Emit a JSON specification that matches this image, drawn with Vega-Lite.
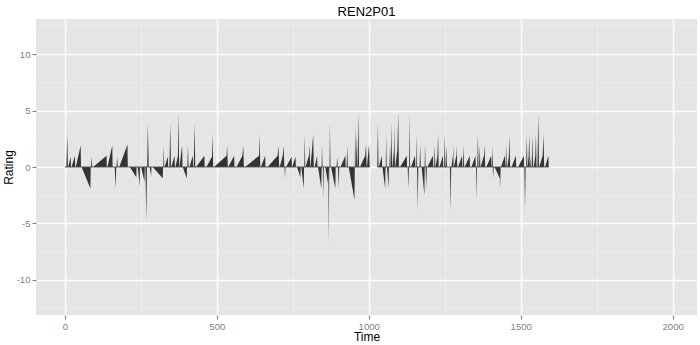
{
  "$schema": "https://vega.github.io/schema/vega-lite/v6.json",
  "width": 661,
  "height": 296,
  "autosize": {"type": "none"},
  "padding": {"left": 36, "top": 19, "right": 3, "bottom": 30},
  "background": "white",
  "title": {"text": "REN2P01", "fontSize": 13, "font": "Liberation Sans", "fontWeight": "normal", "color": "black", "anchor": "middle", "offset": 0},
  "config": {
    "view": {"fill": "#e5e5e5", "stroke": null},
    "axis": {"domain": false, "labelFont": "Liberation Sans", "titleFont": "Liberation Sans", "labelColor": "#7f7f7f", "labelFontSize": 9.6, "titleFontSize": 12, "titleFontWeight": "normal", "titleColor": "black", "tickColor": "#7f7f7f", "tickSize": 4, "labelPadding": 2}
  },
  "layer": [
    {
      "data": {"values": [{"Rating": -12.5}, {"Rating": -7.5}, {"Rating": -2.5}, {"Rating": 2.5}, {"Rating": 7.5}, {"Rating": 12.5}]},
      "mark": {"type": "rule", "color": "#f2f2f2", "strokeWidth": 0.6},
      "encoding": {
        "y": {"field": "Rating", "type": "quantitative"}
      }
    },
    {
      "data": {"values": [
{"Time":0,"Rating":0},{"Time":5,"Rating":0},{"Time":8,"Rating":2.9},{"Time":10,"Rating":0},
{"Time":11,"Rating":0},{"Time":19,"Rating":0.9},{"Time":20,"Rating":0},
{"Time":22,"Rating":0},{"Time":33,"Rating":1.0},{"Time":34,"Rating":0},
{"Time":36,"Rating":0},{"Time":52,"Rating":1.9},{"Time":53,"Rating":0},
{"Time":55,"Rating":0},{"Time":84,"Rating":-1.9},{"Time":85,"Rating":0},
{"Time":86,"Rating":0},{"Time":88,"Rating":0.9},{"Time":90,"Rating":0},
{"Time":93,"Rating":0},{"Time":137,"Rating":1.0},{"Time":138,"Rating":0},
{"Time":140,"Rating":0},{"Time":156,"Rating":1.9},{"Time":157,"Rating":0},
{"Time":164,"Rating":0},{"Time":167,"Rating":-1.9},{"Time":169,"Rating":0},
{"Time":170,"Rating":0},{"Time":172,"Rating":0.9},{"Time":174,"Rating":0},
{"Time":179,"Rating":0},{"Time":206,"Rating":2.0},{"Time":207,"Rating":0},
{"Time":214,"Rating":0},{"Time":235,"Rating":-0.9},{"Time":236,"Rating":0},
{"Time":240,"Rating":0},{"Time":246,"Rating":-1.7},{"Time":247,"Rating":0},
{"Time":251,"Rating":0},{"Time":262,"Rating":-1.3},{"Time":263,"Rating":0},
{"Time":265,"Rating":0},{"Time":268,"Rating":-4.8},{"Time":270,"Rating":0},
{"Time":271,"Rating":0},{"Time":273,"Rating":3.9},{"Time":276,"Rating":0},
{"Time":279,"Rating":0},{"Time":284,"Rating":-0.8},{"Time":285,"Rating":0},
{"Time":289,"Rating":0},{"Time":322,"Rating":-1.0},{"Time":323,"Rating":0},
{"Time":324,"Rating":0},{"Time":325,"Rating":1.9},{"Time":327,"Rating":0},
{"Time":328,"Rating":0},{"Time":339,"Rating":0.9},{"Time":340,"Rating":0},
{"Time":344,"Rating":0},{"Time":347,"Rating":3.9},{"Time":349,"Rating":0},
{"Time":350,"Rating":0},{"Time":361,"Rating":1.0},{"Time":362,"Rating":0},
{"Time":364,"Rating":0},{"Time":372,"Rating":1.0},{"Time":374,"Rating":4.9},{"Time":376,"Rating":0},
{"Time":377,"Rating":0},{"Time":386,"Rating":1.9},{"Time":387,"Rating":0},
{"Time":388,"Rating":0},{"Time":401,"Rating":-1.0},{"Time":402,"Rating":0},
{"Time":403,"Rating":0},{"Time":405,"Rating":1.9},{"Time":407,"Rating":0},
{"Time":410,"Rating":0},{"Time":421,"Rating":1.0},{"Time":422,"Rating":0},
{"Time":424,"Rating":0},{"Time":427,"Rating":3.9},{"Time":429,"Rating":0},
{"Time":432,"Rating":0},{"Time":459,"Rating":1.0},{"Time":460,"Rating":0},
{"Time":466,"Rating":0},{"Time":484,"Rating":0.9},{"Time":486,"Rating":2.9},{"Time":488,"Rating":0},
{"Time":491,"Rating":0},{"Time":532,"Rating":1.0},{"Time":534,"Rating":1.9},{"Time":536,"Rating":0},
{"Time":538,"Rating":0},{"Time":557,"Rating":1.0},{"Time":558,"Rating":0},
{"Time":565,"Rating":0},{"Time":584,"Rating":1.0},{"Time":587,"Rating":1.9},{"Time":589,"Rating":0},
{"Time":593,"Rating":0},{"Time":639,"Rating":1.0},{"Time":641,"Rating":2.9},{"Time":643,"Rating":0},
{"Time":645,"Rating":0},{"Time":659,"Rating":1.0},{"Time":660,"Rating":0},
{"Time":667,"Rating":0},{"Time":700,"Rating":1.0},{"Time":703,"Rating":1.9},{"Time":705,"Rating":0},
{"Time":707,"Rating":0},{"Time":717,"Rating":1.0},{"Time":720,"Rating":1.9},{"Time":722,"Rating":0},
{"Time":723,"Rating":0},{"Time":724,"Rating":-1.0},{"Time":726,"Rating":0},
{"Time":728,"Rating":0},{"Time":746,"Rating":0.9},{"Time":747,"Rating":0},
{"Time":748,"Rating":0},{"Time":759,"Rating":0.9},{"Time":760,"Rating":0},
{"Time":764,"Rating":0},{"Time":775,"Rating":-0.9},{"Time":776,"Rating":0},
{"Time":778,"Rating":0},{"Time":786,"Rating":-1.9},{"Time":787,"Rating":0},
{"Time":788,"Rating":0},{"Time":789,"Rating":2.9},{"Time":791,"Rating":0},
{"Time":792,"Rating":0},{"Time":803,"Rating":1.0},{"Time":805,"Rating":2.0},{"Time":807,"Rating":0},
{"Time":808,"Rating":0},{"Time":813,"Rating":1.5},{"Time":817,"Rating":2.9},{"Time":819,"Rating":0},
{"Time":822,"Rating":0},{"Time":830,"Rating":1.0},{"Time":831,"Rating":0},
{"Time":833,"Rating":0},{"Time":844,"Rating":-1.9},{"Time":845,"Rating":0},
{"Time":846,"Rating":1.9},{"Time":848,"Rating":0},
{"Time":849,"Rating":0},{"Time":850,"Rating":-2.8},{"Time":852,"Rating":0},
{"Time":857,"Rating":0},{"Time":866,"Rating":-1.5},{"Time":867,"Rating":0},
{"Time":868,"Rating":-6.8},{"Time":870,"Rating":0},
{"Time":871,"Rating":0},{"Time":872,"Rating":3.9},{"Time":874,"Rating":0},
{"Time":876,"Rating":0},{"Time":890,"Rating":-1.9},{"Time":891,"Rating":0},
{"Time":894,"Rating":0},{"Time":896,"Rating":0.9},{"Time":898,"Rating":0},
{"Time":899,"Rating":0},{"Time":901,"Rating":-1.9},{"Time":903,"Rating":0},
{"Time":907,"Rating":0},{"Time":923,"Rating":1.0},{"Time":924,"Rating":0},
{"Time":927,"Rating":0},{"Time":929,"Rating":1.9},{"Time":931,"Rating":0},
{"Time":934,"Rating":0},{"Time":953,"Rating":-2.9},{"Time":954,"Rating":0},
{"Time":955,"Rating":3.9},{"Time":957,"Rating":0},
{"Time":958,"Rating":0},{"Time":960,"Rating":2.9},{"Time":962,"Rating":0},
{"Time":963,"Rating":0},{"Time":966,"Rating":4.8},{"Time":968,"Rating":0},
{"Time":971,"Rating":0},{"Time":988,"Rating":1.0},{"Time":991,"Rating":2.0},{"Time":993,"Rating":0},
{"Time":994,"Rating":0},{"Time":999,"Rating":1.5},{"Time":1001,"Rating":2.0},{"Time":1003,"Rating":0},
{"Time":1028,"Rating":0},{"Time":1030,"Rating":3.9},{"Time":1032,"Rating":0},
{"Time":1033,"Rating":0},{"Time":1043,"Rating":1.0},{"Time":1044,"Rating":0},
{"Time":1045,"Rating":0},{"Time":1054,"Rating":-1.9},{"Time":1055,"Rating":0},
{"Time":1056,"Rating":0},{"Time":1057,"Rating":2.9},{"Time":1059,"Rating":0},
{"Time":1060,"Rating":0},{"Time":1065,"Rating":-1.9},{"Time":1066,"Rating":0},
{"Time":1068,"Rating":0},{"Time":1070,"Rating":2.0},{"Time":1072,"Rating":0},
{"Time":1073,"Rating":0},{"Time":1075,"Rating":3.9},{"Time":1077,"Rating":0},
{"Time":1078,"Rating":0},{"Time":1083,"Rating":1.5},{"Time":1084,"Rating":3.7},{"Time":1086,"Rating":0},
{"Time":1087,"Rating":0},{"Time":1094,"Rating":1.5},{"Time":1097,"Rating":4.8},{"Time":1099,"Rating":0},
{"Time":1103,"Rating":0},{"Time":1125,"Rating":1.0},{"Time":1126,"Rating":0},
{"Time":1128,"Rating":0},{"Time":1130,"Rating":-1.9},{"Time":1132,"Rating":0},
{"Time":1133,"Rating":0},{"Time":1134,"Rating":4.8},{"Time":1136,"Rating":0},
{"Time":1139,"Rating":0},{"Time":1152,"Rating":1.0},{"Time":1153,"Rating":0},
{"Time":1155,"Rating":0},{"Time":1156,"Rating":2.9},{"Time":1158,"Rating":0},
{"Time":1159,"Rating":0},{"Time":1161,"Rating":-3.8},{"Time":1163,"Rating":0},
{"Time":1167,"Rating":0},{"Time":1169,"Rating":1.9},{"Time":1171,"Rating":0},
{"Time":1174,"Rating":0},{"Time":1183,"Rating":-2.5},{"Time":1184,"Rating":0},
{"Time":1185,"Rating":2.0},{"Time":1187,"Rating":0},
{"Time":1189,"Rating":-1.9},{"Time":1191,"Rating":0},
{"Time":1193,"Rating":0},{"Time":1211,"Rating":1.0},{"Time":1212,"Rating":0},
{"Time":1215,"Rating":0},{"Time":1217,"Rating":1.9},{"Time":1219,"Rating":0},
{"Time":1220,"Rating":0},{"Time":1226,"Rating":1.0},{"Time":1228,"Rating":2.9},{"Time":1230,"Rating":0},
{"Time":1233,"Rating":0},{"Time":1244,"Rating":1.0},{"Time":1245,"Rating":0},
{"Time":1248,"Rating":0},{"Time":1250,"Rating":2.9},{"Time":1252,"Rating":0},
{"Time":1253,"Rating":0},{"Time":1255,"Rating":1.9},{"Time":1257,"Rating":0},
{"Time":1267,"Rating":0},{"Time":1270,"Rating":-3.95},{"Time":1271,"Rating":0},
{"Time":1272,"Rating":0},{"Time":1277,"Rating":1.0},{"Time":1278,"Rating":1.9},{"Time":1279,"Rating":0},
{"Time":1280,"Rating":0},{"Time":1288,"Rating":1.0},{"Time":1289,"Rating":1.9},{"Time":1291,"Rating":0},
{"Time":1294,"Rating":0},{"Time":1307,"Rating":1.0},{"Time":1308,"Rating":0},
{"Time":1310,"Rating":0},{"Time":1312,"Rating":1.9},{"Time":1314,"Rating":0},
{"Time":1316,"Rating":0},{"Time":1332,"Rating":1.0},{"Time":1333,"Rating":0},
{"Time":1338,"Rating":0},{"Time":1351,"Rating":1.0},{"Time":1352,"Rating":0},
{"Time":1353,"Rating":0},{"Time":1354,"Rating":-2.9},{"Time":1356,"Rating":0},
{"Time":1357,"Rating":0},{"Time":1359,"Rating":2.9},{"Time":1361,"Rating":0},
{"Time":1363,"Rating":0},{"Time":1365,"Rating":1.9},{"Time":1367,"Rating":0},
{"Time":1368,"Rating":0},{"Time":1379,"Rating":1.0},{"Time":1381,"Rating":1.9},{"Time":1383,"Rating":0},
{"Time":1387,"Rating":0},{"Time":1403,"Rating":1.0},{"Time":1404,"Rating":0},
{"Time":1405,"Rating":0},{"Time":1407,"Rating":1.9},{"Time":1408,"Rating":0},
{"Time":1409,"Rating":-1.0},{"Time":1411,"Rating":0},
{"Time":1414,"Rating":0},{"Time":1431,"Rating":-1.0},{"Time":1432,"Rating":-1.9},{"Time":1434,"Rating":0},
{"Time":1435,"Rating":0},{"Time":1448,"Rating":1.0},{"Time":1449,"Rating":0},
{"Time":1450,"Rating":0},{"Time":1452,"Rating":1.9},{"Time":1454,"Rating":0},
{"Time":1456,"Rating":0},{"Time":1461,"Rating":1.0},{"Time":1463,"Rating":2.9},{"Time":1465,"Rating":0},
{"Time":1470,"Rating":0},{"Time":1484,"Rating":1.0},{"Time":1485,"Rating":0},
{"Time":1492,"Rating":0},{"Time":1510,"Rating":1.0},{"Time":1511,"Rating":0},
{"Time":1512,"Rating":0},{"Time":1514,"Rating":-3.8},{"Time":1516,"Rating":0},
{"Time":1518,"Rating":0},{"Time":1520,"Rating":2.9},{"Time":1522,"Rating":0},
{"Time":1523,"Rating":0},{"Time":1526,"Rating":1.0},{"Time":1528,"Rating":2.9},{"Time":1530,"Rating":0},
{"Time":1531,"Rating":0},{"Time":1534,"Rating":1.0},{"Time":1535,"Rating":0},
{"Time":1537,"Rating":0},{"Time":1539,"Rating":2.9},{"Time":1541,"Rating":0},
{"Time":1543,"Rating":0},{"Time":1548,"Rating":1.0},{"Time":1550,"Rating":2.9},{"Time":1552,"Rating":0},
{"Time":1555,"Rating":0},{"Time":1558,"Rating":4.8},{"Time":1560,"Rating":0},
{"Time":1561,"Rating":0},{"Time":1572,"Rating":1.0},{"Time":1575,"Rating":2.9},{"Time":1577,"Rating":0},
{"Time":1580,"Rating":0},{"Time":1591,"Rating":1.0},{"Time":1592,"Rating":0}
      ]},
      "mark": {"type": "area", "color": "#333333", "interpolate": "linear"},
      "encoding": {
        "x": {"field": "Time", "type": "quantitative", "sort": null,
          "scale": {"domain": [-95, 2080], "nice": false, "zero": false},
          "axis": {"title": "Time", "titlePadding": 1, "format": "d",
            "values": [0, 250, 500, 750, 1000, 1250, 1500, 1750, 2000],
            "labelExpr": "datum.value % 500 === 0 ? datum.label : ''",
            "gridColor": {"condition": {"test": "datum.value % 500 === 0", "value": "#ffffff"}, "value": "#f2f2f2"},
            "gridWidth": {"condition": {"test": "datum.value % 500 === 0", "value": 1.4}, "value": 0.6},
            "tickOpacity": {"condition": {"test": "datum.value % 500 === 0", "value": 1}, "value": 0}}},
        "y": {"field": "Rating", "type": "quantitative",
          "scale": {"domain": [-13.1, 13.1], "nice": false},
          "axis": {"title": "Rating", "titleX": -21, "titleY": 148, "titleBaseline": "bottom", "titleAngle": -90,
            "values": [-10, -5, 0, 5, 10],
            "labelExpr": "datum.value < 0 ? '-' + abs(datum.value) : '' + datum.value",
            "gridColor": "#ffffff", "gridWidth": 1.4}}
      }
    },
    {
      "data": {"values": [{"Time": 0, "TimeEnd": 1003, "Rating": 0}, {"Time": 1029, "TimeEnd": 1592, "Rating": 0}]},
      "mark": {"type": "rule", "color": "#555555", "strokeWidth": 1},
      "encoding": {
        "x": {"field": "Time", "type": "quantitative"},
        "x2": {"field": "TimeEnd"},
        "y": {"field": "Rating", "type": "quantitative"}
      }
    }
  ]
}
